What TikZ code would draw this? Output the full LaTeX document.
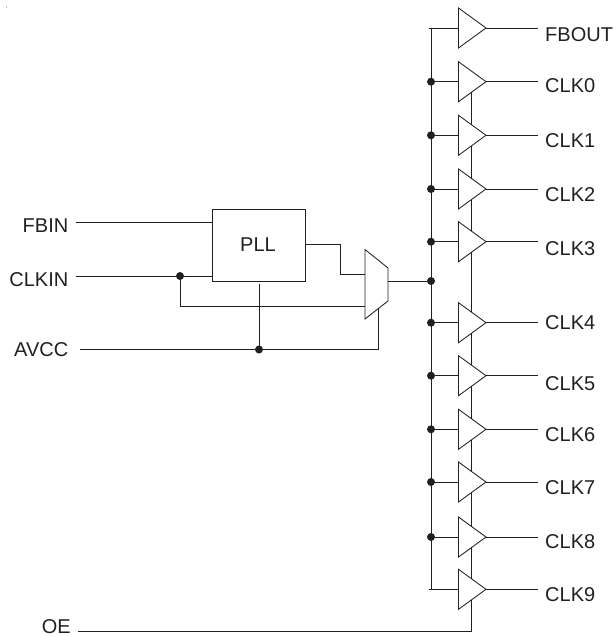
\documentclass[tikz,border=0pt]{standalone}
\usepackage{fontspec}
\setmainfont{Liberation Sans}
\usetikzlibrary{shapes.geometric}
\definecolor{ink}{HTML}{231F20}
\tikzset{
  wire/.style={draw=ink,line width=0.85pt},
  buf/.style={draw=ink,fill=white,line width=0.85pt,shape=isosceles triangle,isosceles triangle stretches,
    minimum width=40pt,minimum height=27.5pt,inner sep=0pt,outer sep=0pt,anchor=lower side},
  jdot/.style={circle,fill=ink,draw=none,minimum size=8pt,inner sep=0pt,outer sep=0pt},
  lbl/.style={text=ink,font=\fontsize{20}{22}\selectfont,inner sep=0pt},
  pllbox/.style={draw=ink,fill=white,line width=0.85pt,minimum width=93pt,minimum height=72pt,inner sep=0pt,outer sep=0pt}
}
\begin{document}
\begin{tikzpicture}[x=1pt,y=-1pt]
\useasboundingbox (0,0) rectangle (615,636);
\node[circle,fill=gray,minimum size=1.3pt,inner sep=0pt] (speck) at (6.5,7) {};
% enable bus
\coordinate (enTop) at (471.5,92);
\coordinate (enBot) at (471.5,631);
\coordinate (oeStart) at (78,631);
\draw[wire] (enTop) -- (enBot) -- (oeStart);
\node[lbl,anchor=base east] (oe) at (71,633) {OE};
% clock bus
\coordinate (busTop) at (431,28);
\coordinate (busBot) at (431,589.3);
\draw[wire] (busTop) -- (busBot);
% buffers
\foreach \n/\y/\ty/\t in {f/28/41.7/FBOUT,c0/81.7/92.7/CLK0,c1/135.3/147.7/CLK1,c2/189/201.7/CLK2,c3/241.7/255/CLK3,c4/322.7/329.3/CLK4,c5/375.7/390.7/CLK5,c6/429.3/441.3/CLK6,c7/482/494/CLK7,c8/537/548.3/CLK8,c9/589.3/601.7/CLK9}{
  \node[buf] (b\n) at (458.5,\y) {};
  \coordinate (s\n) at (431,\y);
  \coordinate (e\n) at (538,\y);
  \draw[wire] (s\n) -- (b\n.lower side);
  \draw[wire] (b\n.apex) -- (e\n);
  \node[lbl,anchor=base west] (t\n) at (545,\ty) {\t};
}
\foreach \n in {c0,c1,c2,c3,c4,c5,c6,c7,c8}{
  \node[jdot] (d\n) at (s\n) {};
}
\coordinate (stf) at (428.5,28);
\coordinate (stn) at (428.5,589.3);
\draw[wire] (stf) -- (sf);
\draw[wire] (stn) -- (sc9);
% PLL
\node[pllbox] (pll) at (258.5,245) {};
\node[lbl,anchor=base] (plltxt) at (258,251.7) {PLL};
% mux
\coordinate (m1) at (365,249.5);
\coordinate (m2) at (388,268);
\coordinate (m3) at (388,301);
\coordinate (m4) at (365,319);
\draw[wire,line join=miter] (m1) -- (m2) -- (m3) -- (m4) -- cycle;
% inputs
\node[lbl,anchor=base east] (fbin) at (68.5,232.7) {FBIN};
\node[lbl,anchor=base east] (clkin) at (68.5,286) {CLKIN};
\node[lbl,anchor=base east] (avcc) at (68.5,356.7) {AVCC};
\coordinate (fbS) at (76,222);
\coordinate (fbE) at (212,222);
\draw[wire] (fbS) -- (fbE);
\coordinate (ckS) at (76,276);
\coordinate (ckE) at (212,276);
\draw[wire] (ckS) -- (ckE);
\node[jdot] (dck) at (180,276) {};
\coordinate (ckM) at (365,306.5);
\draw[wire] (dck.center) |- (ckM);
\coordinate (aS) at (80,349.5);
\coordinate (aC) at (378.5,349.5);
\coordinate (aU) at (378.5,308);
\draw[wire] (aS) -- (aC) -- (aU);
\node[jdot] (dav) at (259,349.5) {};
\coordinate (pllG) at (259,284);
\draw[wire] (pllG) -- (dav.center);
% PLL out
\coordinate (pO) at (305,244);
\coordinate (pA) at (340.5,244);
\coordinate (pB) at (340.5,274);
\coordinate (pC) at (365,274);
\draw[wire] (pO) -- (pA) -- (pB) -- (pC);
% mux out
\coordinate (mO) at (388,281);
\node[jdot] (dm) at (431,281) {};
\draw[wire] (mO) -- (dm.center);
\end{tikzpicture}
\end{document}
